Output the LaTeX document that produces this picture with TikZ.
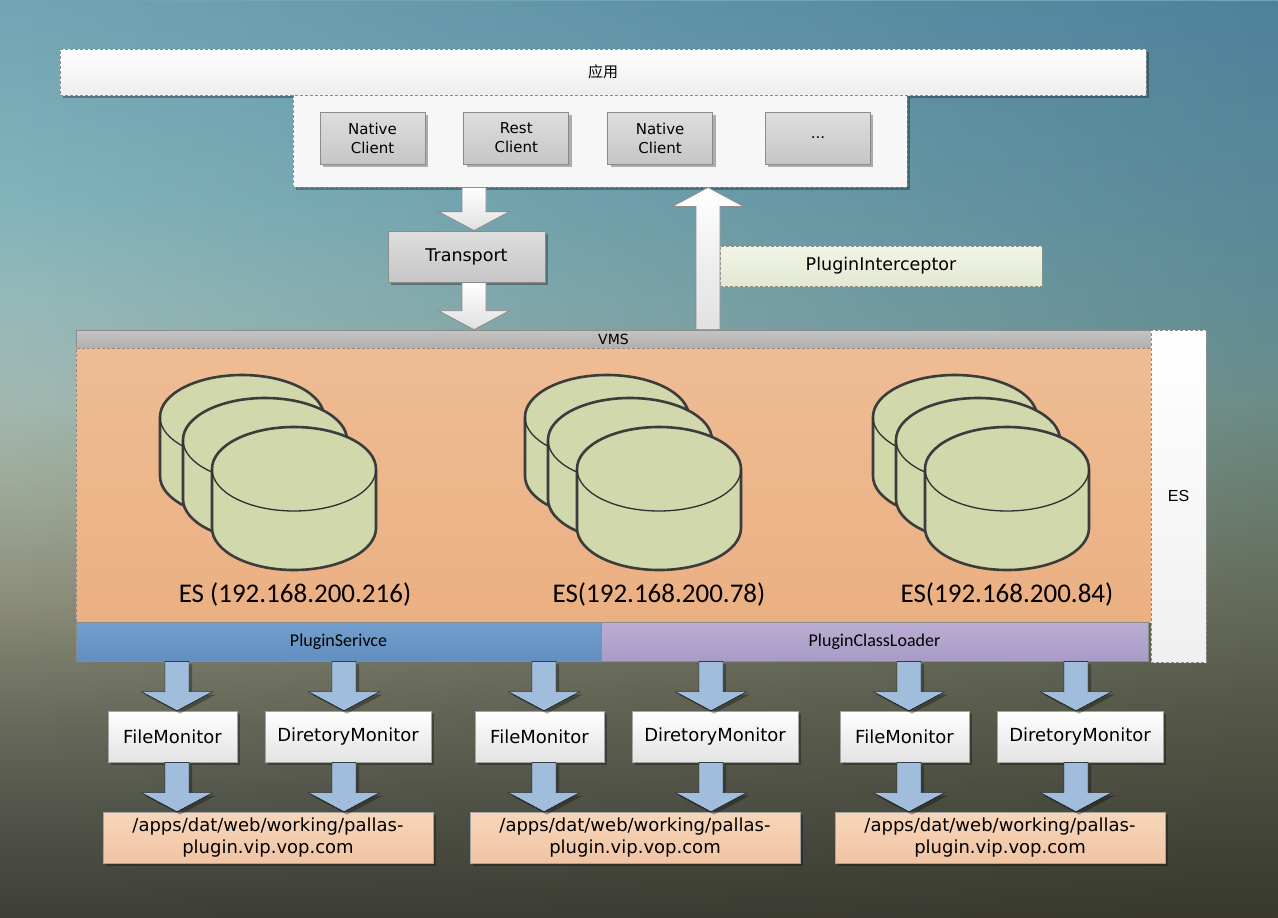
\documentclass[tikz,border=0pt]{standalone}
\usepackage{fontspec}
\setmainfont{DejaVu Sans}
\newfontfamily\calibfont{Carlito}
\newfontfamily\arialfont{Liberation Sans}
\newfontfamily\cjkfont{Noto Sans CJK SC}
\usetikzlibrary{positioning, calc, shadows, fadings}

\definecolor{dashgray}{RGB}{140,140,140}
\definecolor{edgegray}{RGB}{140,140,140}
\definecolor{clienttop}{RGB}{222,222,222}
\definecolor{clientbot}{RGB}{198,198,198}
\definecolor{intertop}{RGB}{242,245,230}
\definecolor{interbot}{RGB}{226,232,210}
\definecolor{vmstop}{RGB}{196,196,196}
\definecolor{vmsbot}{RGB}{176,176,176}
\definecolor{orangetop}{RGB}{238,188,148}
\definecolor{orangebot}{RGB}{235,176,130}
\definecolor{servtop}{RGB}{114,160,206}
\definecolor{servbot}{RGB}{98,142,192}
\definecolor{loadtop}{RGB}{186,174,212}
\definecolor{loadbot}{RGB}{168,156,198}
\definecolor{cylfill}{RGB}{208,216,172}
\definecolor{cyledge}{RGB}{60,60,60}
\definecolor{pathtop}{RGB}{248,214,186}
\definecolor{pathbot}{RGB}{240,196,164}
\definecolor{arrowblue}{RGB}{160,190,220}

% background gradients, left and right edge
\definecolor{la}{RGB}{62,64,56}
\definecolor{lb}{RGB}{85,88,78}
\definecolor{lc}{RGB}{110,112,96}
\definecolor{ld}{RGB}{140,142,122}
\definecolor{le}{RGB}{158,168,150}
\definecolor{lf}{RGB}{162,185,178}
\definecolor{lg}{RGB}{150,185,185}
\definecolor{lh}{RGB}{130,180,188}
\definecolor{li}{RGB}{114,165,180}
\definecolor{ra}{RGB}{56,56,46}
\definecolor{rb}{RGB}{85,88,72}
\definecolor{rc}{RGB}{100,106,90}
\definecolor{rd}{RGB}{105,125,112}
\definecolor{re}{RGB}{108,140,135}
\definecolor{rf}{RGB}{95,140,150}
\definecolor{rg}{RGB}{78,130,155}
\pgfdeclareverticalshading{bgleft}{100bp}{color(0bp)=(la); color(25bp)=(la);
  color(31.4bp)=(lb); color(36.9bp)=(lc); color(42.3bp)=(ld); color(47.8bp)=(le);
  color(53.2bp)=(lf); color(58.7bp)=(lg); color(64.1bp)=(lh); color(75bp)=(li); color(100bp)=(li)}
\pgfdeclareverticalshading{bgright}{100bp}{color(0bp)=(ra); color(25bp)=(ra);
  color(36.9bp)=(rb); color(42.3bp)=(rc); color(47.8bp)=(rd); color(53.2bp)=(re);
  color(58.7bp)=(rf); color(75bp)=(rg); color(100bp)=(rg)}
\tikzfading[name=bgfade, left color=transparent!100, right color=transparent!0]

\tikzset{
  blockarrow/.style={to path={
    let \p1=(\tikztostart), \p2=(\tikztotarget),
        \n1={\y2-19pt*sign(\y2-\y1)} in
    (\x1-12pt,\y1) -- (\x1-12pt,\n1) -- (\x1-35.5pt,\n1) -- (\x2,\y2)
    -- (\x1+35.5pt,\n1) -- (\x1+12pt,\n1) -- (\x1+12pt,\y1) -- cycle}}
}

\begin{document}
\begin{tikzpicture}[x=1pt, y=-1pt,
  boxshadow/.style = {drop shadow={shadow xshift=3pt, shadow yshift=-3pt, opacity=0.3, fill=black}},
  frame/.style  = {draw=dashgray, dash pattern=on 3pt off 2pt, line width=0.8pt},
  client/.style = {draw=edgegray, line width=0.8pt, top color=clienttop, bottom color=clientbot,
                   minimum width=105pt, minimum height=52pt, inner sep=0pt, align=center,
                   font=\fontsize{15}{19}\selectfont, boxshadow},
  bar/.style    = {draw=edgegray, line width=0.6pt, inner sep=0pt, font=\calibfont\fontsize{18}{20}\selectfont},
  monitor/.style= {draw=edgegray!80, line width=0.6pt, top color=white, bottom color=black!11,
                   minimum height=51pt, inner sep=0pt, font=\fontsize{18}{20}\selectfont, boxshadow},
  pathbox/.style= {draw=edgegray!80, line width=0.6pt, top color=pathtop, bottom color=pathbot,
                   minimum width=330pt, minimum height=51pt, inner sep=0pt, align=center,
                   font=\fontsize{18}{22}\selectfont, boxshadow},
  eslabel/.style= {font=\calibfont\fontsize{27}{30}\selectfont},
  cyl/.style    = {fill=cylfill, draw=cyledge, line width=2.6pt, line join=round},
  cylrim/.style = {draw=cyledge!80!black, line width=1.3pt},
  whitearrow/.style = {blockarrow, draw=edgegray, line width=0.8pt, top color=white, bottom color=black!12},
  bluearrow/.style  = {blockarrow, fill=arrowblue, boxshadow}
]

% background
\shade[shading=bgleft] (0,0) rectangle (1278,918);
\shade[shading=bgright, path fading=bgfade] (0,0) rectangle (1278,918);

%--------------------------------------------------
% application layer
%--------------------------------------------------
\node[frame, top color=white, bottom color=black!7, minimum width=1086pt, minimum height=46pt,
      inner sep=0pt, boxshadow, font=\cjkfont\fontsize{15}{17}\selectfont] (app) at (603,72) {应用};
\node[frame, fill=black!3, minimum width=614pt, minimum height=92pt, inner sep=0pt, boxshadow]
  (clients) at (600,141) {};

\node[client] (native1) at (372.5,138) {Native\\Client};
\node[client, right=38pt of native1] (rest) {Rest\\Client};
\node[client, right=38pt of rest] (native2) {Native\\Client};
\node[client, right=52pt of native2] (more) {...};

\node[client, minimum width=157pt, minimum height=51pt, font=\fontsize{17.5}{20}\selectfont]
  (transport) at (466.5,256.5) {Transport};

\node[frame, top color=intertop, bottom color=interbot, minimum width=322pt, minimum height=40pt,
      inner sep=0pt, font=\fontsize{17.5}{20}\selectfont] (interceptor) at (881,266) {PluginInterceptor};

%--------------------------------------------------
% ES cluster
%--------------------------------------------------
\node[bar, top color=vmstop, bottom color=vmsbot, minimum width=1075pt, minimum height=18pt,
      font=\fontsize{14}{16}\selectfont] (vms) at (613.5,339) {VMS};
\node[frame, top color=orangetop, bottom color=orangebot, minimum width=1075pt, minimum height=274pt,
      inner sep=0pt] (cluster) at (613.5,485) {};
\node[frame, top color=white, bottom color=black!6, minimum width=55pt, minimum height=332pt,
      inner sep=0pt, font=\arialfont\fontsize{16}{18}\selectfont] (escol) at (1178.5,496) {ES};

\foreach \gx in {0,365,713} {
  \foreach \d in {0,23,52} {
    \draw[cyl] (160+\gx+\d,417+\d) -- ++(0,59)
      arc[start angle=180, end angle=360, x radius=82pt, y radius=42pt] -- ++(0,-59)
      arc[start angle=0, end angle=180, x radius=82pt, y radius=42pt] -- cycle;
    \draw[cylrim] (324+\gx+\d,417+\d)
      arc[start angle=0, end angle=-180, x radius=82pt, y radius=42pt];
  }
}

\node[eslabel] (es1) at (295,594) {ES (192.168.200.216)};
\node[eslabel] (es2) at (659,594) {ES(192.168.200.78)};
\node[eslabel] (es3) at (1007,594) {ES(192.168.200.84)};

\node[bar, top color=servtop, bottom color=servbot, minimum width=525pt, minimum height=39pt]
  (service) at (338.5,641.5) {PluginSerivce};
\node[bar, top color=loadtop, bottom color=loadbot, minimum width=547pt, minimum height=39pt]
  (loader) at (874.5,641.5) {PluginClassLoader};

%--------------------------------------------------
% request path
%--------------------------------------------------
\coordinate (downx) at (474,0);
\coordinate (upx) at (708,0);
\draw[whitearrow] (clients.south -| downx) to (transport.north -| downx);
\draw[whitearrow] (transport.south -| downx) to (vms.north -| downx);
\draw[whitearrow] (vms.north -| upx) to (clients.south -| upx);

%--------------------------------------------------
% monitors and plugin folders
%--------------------------------------------------
\foreach \g/\k in {0/a,367/b,732/c} {
  \node[monitor, minimum width=129pt] (file\k) at (172.5+\g,736.5) {FileMonitor};
  \node[monitor, minimum width=166pt] (dir\k) at (348+\g,736.5) {DiretoryMonitor};
  \node[pathbox] (path\k) at (268+\g,837.5) {/apps/dat/web/working/pallas-\\plugin.vip.vop.com};
  \coordinate (fx\k) at (177+\g,0);
  \coordinate (dx\k) at (344+\g,0);
  \draw[bluearrow] (service.south -| fx\k) to (file\k.north -| fx\k);
  \draw[bluearrow] (service.south -| dx\k) to (dir\k.north -| dx\k);
  \draw[bluearrow] (file\k.south -| fx\k) to (path\k.north -| fx\k);
  \draw[bluearrow] (dir\k.south -| dx\k) to (path\k.north -| dx\k);
}

\end{tikzpicture}
\end{document}
